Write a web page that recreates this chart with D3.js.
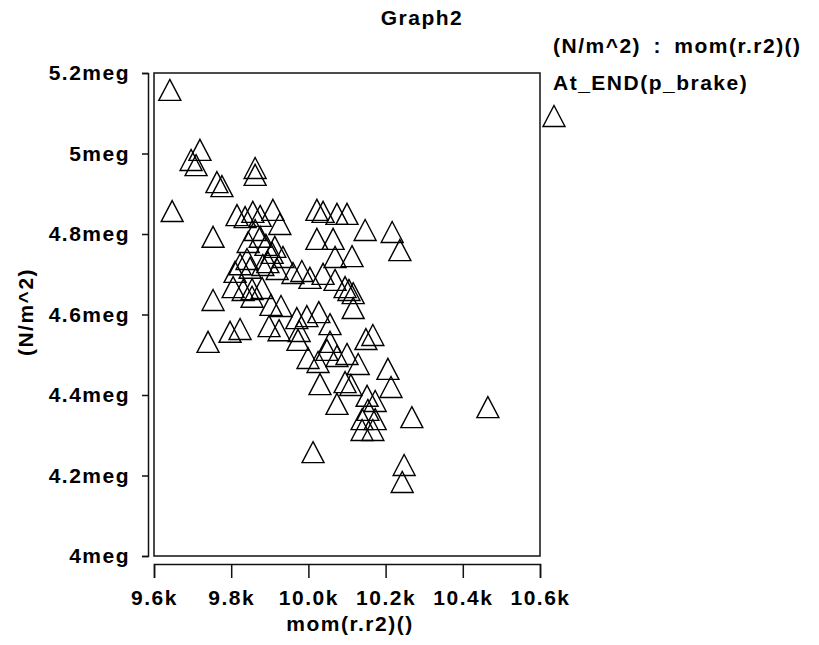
<!DOCTYPE html>
<html>
<head>
<meta charset="utf-8">
<script src="https://cdnjs.cloudflare.com/ajax/libs/d3/7.8.5/d3.min.js"></script>
<style>
    body { margin: 0; background: #fff; }
    svg text { font-family: 'Liberation Sans', Arial, sans-serif; font-weight: bold; font-size: 21px; letter-spacing: 1.5px; word-spacing: 5px; fill: #000; }
</style>
</head>
<body>
<div id="chart"></div>
<script>
// mom(r.r2)() in k
const momK = [
    9.641, 9.719, 9.696, 9.709, 9.763, 9.776, 9.862, 9.862, 9.647, 9.815,
    9.836, 9.856, 9.875, 9.908, 9.926, 10.022, 10.038, 10.074, 10.100, 10.147,
    9.753, 9.862, 9.875, 9.844, 9.890, 9.913, 9.906, 10.022, 10.064, 10.217,
    10.237, 10.069, 10.113, 9.934, 9.823, 9.841, 9.882, 9.895, 9.919, 9.810,
    9.849, 9.960, 9.983, 10.004, 10.038, 10.069, 10.095, 10.105, 10.116, 10.116,
    9.805, 9.831, 9.854, 9.880, 9.854, 9.753, 9.903, 9.929, 9.970, 9.996,
    10.027, 10.056, 9.898, 9.924, 9.976, 9.973, 9.797, 9.823, 9.740, 10.056,
    10.149, 10.167, 9.999, 10.025, 10.048, 10.074, 10.100, 10.129, 10.206, 10.214,
    10.030, 10.095, 10.110, 10.074, 10.152, 10.173, 10.154, 10.139, 10.173, 10.139,
    10.167, 10.268, 10.465, 10.012, 10.248, 10.243
];

// At_END(p_brake) in meg (N/m^2)
const pressureMeg = [
    5.158, 5.009, 4.984, 4.971, 4.929, 4.919, 4.964, 4.947, 4.857, 4.847,
    4.842, 4.855, 4.845, 4.860, 4.825, 4.860, 4.855, 4.850, 4.850, 4.810,
    4.793, 4.810, 4.793, 4.780, 4.773, 4.768, 4.753, 4.788, 4.788, 4.805,
    4.760, 4.743, 4.745, 4.743, 4.725, 4.738, 4.723, 4.730, 4.713, 4.706,
    4.716, 4.703, 4.708, 4.691, 4.701, 4.686, 4.668, 4.661, 4.653, 4.616,
    4.668, 4.661, 4.663, 4.666, 4.644, 4.636, 4.624, 4.621, 4.591, 4.596,
    4.606, 4.576, 4.571, 4.561, 4.559, 4.537, 4.557, 4.564, 4.532, 4.532,
    4.539, 4.549, 4.492, 4.482, 4.512, 4.497, 4.502, 4.477, 4.465, 4.420,
    4.427, 4.432, 4.425, 4.378, 4.398, 4.385, 4.363, 4.340, 4.340, 4.313,
    4.313, 4.345, 4.370, 4.258, 4.226, 4.184
];

const xTicks = [9.6, 9.8, 10.0, 10.2, 10.4, 10.6];
const yTicks = [4, 4.2, 4.4, 4.6, 4.8, 5, 5.2];

const title = 'Graph2';
const legendLabel = '(N/m^2) : mom(r.r2)()';
const seriesName = 'At_END(p_brake)';
const xTitle = 'mom(r.r2)()';
const yTitle = '(N/m^2)';

const width = 819;
const height = 645;
const plot = {left: 154, right: 540, top: 73, bottom: 556};

const svg = d3.select('#chart')
    .append('svg')
    .attr('width', width)
    .attr('height', height);

const xScale = d3.scaleLinear().domain([9.6, 10.6]).range([plot.left, plot.right]);
const yScale = d3.scaleLinear().domain([4, 5.2]).range([plot.bottom, plot.top]);

// open triangle marker, box centred on the point
const triangle = 'M0,-10.5L11,10.5L-11,10.5Z';

// frame
svg.append('rect')
    .attr('x', plot.left)
    .attr('y', plot.top)
    .attr('width', plot.right - plot.left)
    .attr('height', plot.bottom - plot.top)
    .attr('fill', 'none')
    .attr('stroke', '#111')
    .attr('stroke-width', 1.5);

// y axis, detached to the left of the frame
const gY = svg.append('g')
    .attr('transform', 'translate(148,0)')
    .style('color', '#111')
    .call(d3.axisLeft(yScale)
        .tickValues(yTicks)
        .tickSize(6)
        .tickPadding(12)
        .tickFormat(d => d3.format('~g')(d) + 'meg'));
gY.selectAll('path, line').attr('stroke-width', 1.5);
gY.selectAll('text').attr('font-size', null).attr('font-family', null);

// x axis, detached below the frame
const gX = svg.append('g')
    .attr('transform', 'translate(0,564)')
    .style('color', '#111')
    .call(d3.axisBottom(xScale)
        .tickValues(xTicks)
        .tickSize(14)
        .tickPadding(12)
        .tickFormat(d => d3.format('.1f')(d) + 'k'));
gX.selectAll('path, line').attr('stroke-width', 1.5);
gX.selectAll('text').attr('font-size', null).attr('font-family', null);

// points
const points = momK.map((m, i) => ({x: m, y: pressureMeg[i]}));

svg.append('g')
    .selectAll('path')
    .data(points)
    .enter()
    .append('path')
    .attr('d', triangle)
    .attr('transform', d => 'translate(' + xScale(d.x) + ',' + yScale(d.y) + ')')
    .attr('fill', 'none')
    .attr('stroke', '#000')
    .attr('stroke-width', 1.4);

// titles
svg.append('text')
    .attr('x', 422)
    .attr('y', 25)
    .attr('text-anchor', 'middle')
    .text(title);

svg.append('text')
    .attr('x', 350)
    .attr('y', 631)
    .attr('text-anchor', 'middle')
    .text(xTitle);

svg.append('text')
    .attr('transform', 'translate(33,312) rotate(-90)')
    .attr('text-anchor', 'middle')
    .text(yTitle);

// legend
svg.append('text')
    .attr('x', 553)
    .attr('y', 53)
    .text(legendLabel);

svg.append('text')
    .attr('x', 553)
    .attr('y', 90)
    .text(seriesName);

svg.append('path')
    .attr('d', triangle)
    .attr('transform', 'translate(554,116)')
    .attr('fill', 'none')
    .attr('stroke', '#000')
    .attr('stroke-width', 1.4);
</script>
</body>
</html>
